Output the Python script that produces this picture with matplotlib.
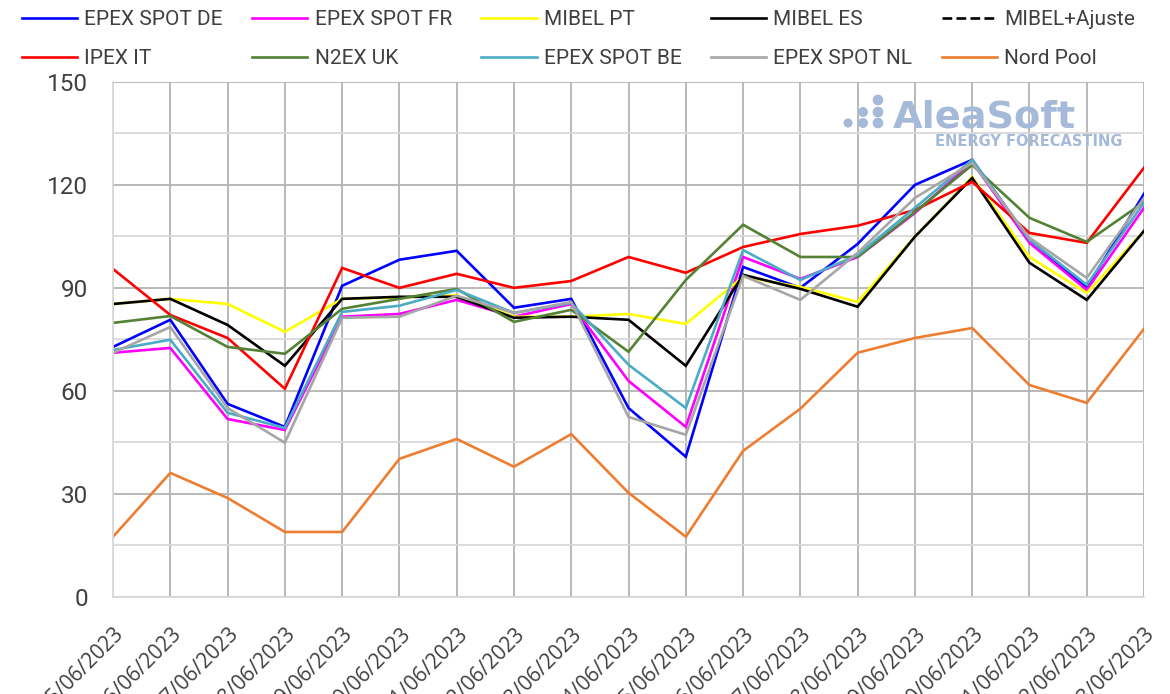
import numpy as np
import matplotlib
matplotlib.use("Agg")
import matplotlib.pyplot as plt
from matplotlib.lines import Line2D

# Daily prices (EUR/MWh), June 2023
days = [f"{d:02d}/06/2023" for d in range(5, 24)]

epex_de = [72.8, 80.7, 56.2, 49.5, 90.6, 98.2, 100.8, 84.2, 86.8, 55.0, 40.8, 96.1,
           90.0, 102.8, 120.0, 127.3, 104.0, 90.0, 117.4]
epex_fr = [71.1, 72.5, 51.8, 48.6, 81.6, 82.4, 86.5, 81.6, 85.3, 62.9, 49.5, 99.0,
           92.6, 99.0, 111.8, 126.7, 103.1, 89.4, 113.3]
mibel_pt = [85.3, 86.8, 85.3, 77.2, 86.8, 87.2, 87.8, 81.6, 81.6, 82.4, 79.5, 93.2,
            90.3, 85.9, 104.9, 122.3, 99.0, 88.5, 106.6]
mibel_es = [85.3, 86.8, 79.2, 67.3, 86.8, 87.4, 87.4, 81.3, 81.6, 80.7, 67.3, 93.8,
            89.7, 84.5, 104.9, 122.0, 97.3, 86.5, 106.6]
mibel_aj = []
ipex_it = [95.5, 82.1, 75.4, 60.6, 95.8, 90.0, 94.1, 90.0, 92.0, 99.0, 94.4, 101.9,
           105.7, 108.1, 112.7, 120.9, 106.0, 103.1, 125.0]
n2ex_uk = [79.8, 81.8, 72.8, 70.8, 83.9, 86.8, 89.7, 80.1, 83.6, 71.4, 92.3, 108.4,
           99.0, 99.0, 112.1, 125.8, 110.4, 103.4, 115.0]
epex_be = [71.9, 74.9, 53.6, 49.2, 83.0, 84.8, 89.4, 82.7, 85.6, 67.6, 55.0, 101.0,
           92.3, 99.6, 113.3, 127.3, 104.0, 90.9, 114.8]
epex_nl = [71.1, 78.6, 55.0, 44.9, 81.3, 81.6, 87.7, 82.7, 85.9, 52.4, 47.2, 93.5,
           86.5, 100.2, 116.2, 126.4, 104.6, 92.9, 116.2]
nord_pool = [17.5, 36.1, 28.8, 18.9, 18.9, 40.2, 46.0, 37.9, 47.4, 30.3, 17.5, 42.5,
             54.8, 71.1, 75.4, 78.3, 61.7, 56.5, 78.1]

series = [
    ("EPEX SPOT DE", epex_de, "#0000FF", "-"),
    ("EPEX SPOT FR", epex_fr, "#FF00FF", "-"),
    ("MIBEL PT", mibel_pt, "#FFFF00", "-"),
    ("MIBEL ES", mibel_es, "#000000", "-"),
    ("MIBEL+Ajuste", mibel_aj, "#000000", "--"),
    ("IPEX IT", ipex_it, "#FF0000", "-"),
    ("N2EX UK", n2ex_uk, "#548235", "-"),
    ("EPEX SPOT BE", epex_be, "#4BACC6", "-"),
    ("EPEX SPOT NL", epex_nl, "#A6A6A6", "-"),
    ("Nord Pool", nord_pool, "#ED7D31", "-"),
]

fig = plt.figure(figsize=(11.7, 6.94), dpi=100)
ax = fig.add_axes([0.0966, 0.14, 0.8812, 0.742])

x = np.arange(len(days))
handles = {}
for name, vals, col, ls in series:
    if len(vals):
        ax.plot(x[:len(vals)], vals, color=col, lw=1.9, ls=ls, solid_joinstyle="miter")
    handles[name] = Line2D([], [], color=col, lw=1.9, ls=ls)

ax.set_xlim(0, len(days) - 1)
ax.set_ylim(0, 150)
ax.set_yticks(np.arange(0, 151, 30))
ax.set_yticks(np.arange(15, 151, 30), minor=True)
ax.set_xticks(x)
ax.set_xticklabels(days, rotation=45, ha="right", va="top", rotation_mode="anchor",
                   fontsize=15, color="#404040", family="Open Sans")
ax.tick_params(axis="x", length=0, pad=19)
ax.tick_params(axis="y", which="both", length=0, pad=18, labelsize=17.5, labelcolor="#404040")
for lab in ax.get_yticklabels():
    lab.set_family("Roboto")

ax.grid(True, which="major", axis="y", color="#B3B3B3", lw=1.3)
ax.grid(True, which="minor", axis="y", color="#D9D9D9", lw=1.3)
ax.grid(True, which="major", axis="x", color="#B3B3B3", lw=1.3)
ax.set_axisbelow(True)
for s in ["top", "right"]:
    ax.spines[s].set_visible(False)
ax.spines["left"].set_color("#D9D9D9")
ax.spines["left"].set_linewidth(1.3)
ax.spines["bottom"].set_color("#D9D9D9")
ax.spines["bottom"].set_linewidth(1.3)

# legend, row-wise order in a 5-column layout
names = [s[0] for s in series]
order = []
for c in range(5):
    order += [names[c], names[c + 5]]
fig.legend([handles[n] for n in order], order, ncol=5, loc="upper left",
           bbox_to_anchor=(0.008, 1.003), frameon=False,
           prop={"family": "Roboto", "size": 15},
           labelcolor="#404040",
           handlelength=2.65, handletextpad=0.34, columnspacing=1.42,
           labelspacing=0.95, borderaxespad=0.2)

# watermark
logo = "#A5BAD8"
fig.text(0.763, 0.8156, "AleaSoft", fontsize=27.5, fontweight="bold", color=logo,
         family="DejaVu Sans", ha="left", va="baseline")
fig.text(0.959, 0.79, "ENERGY FORECASTING", fontsize=10.5, fontweight="bold", color=logo,
         family="DejaVu Sans", ha="right", va="baseline")
dot_x = [0.7248, 0.7376, 0.7504, 0.7376, 0.7504, 0.7504]
dot_y = [0.8228, 0.8228, 0.8228, 0.8386, 0.8386, 0.8559]
dot_s = [40, 48, 56, 48, 56, 56]
fig.add_artist(plt.scatter(dot_x, dot_y, s=dot_s, color=logo, transform=fig.transFigure,
                           clip_on=False, linewidths=0))

fig.savefig("out.png", dpi=100)
